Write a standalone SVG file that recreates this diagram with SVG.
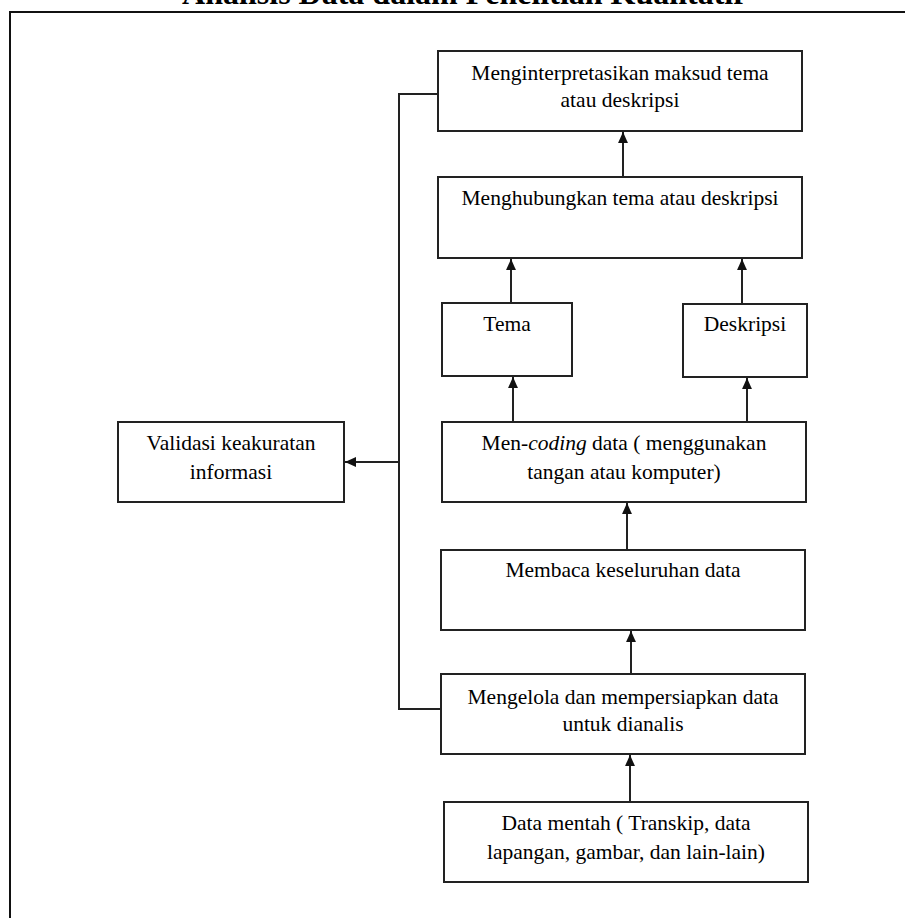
<svg xmlns="http://www.w3.org/2000/svg" width="905" height="918" viewBox="0 0 905 918">
<style>
  .box { fill: #ffffff; stroke: #222; stroke-width: 2; }
  .t { font-family: "Liberation Serif", "Times New Roman", serif; font-size: 21.5px; fill: #000; text-anchor: middle; }
  .title { font-family: "Liberation Serif", "Times New Roman", serif; font-size: 32px; font-weight: bold; fill: #000; text-anchor: middle; }
  .c { fill: none; stroke: #222; stroke-width: 2; }
  .frame { fill: none; stroke: #111; stroke-width: 2; }
</style>
<defs>
  <marker id="ah" viewBox="0 0 10 10" refX="10" refY="5" markerWidth="5.5" markerHeight="5.5" orient="auto" markerUnits="strokeWidth">
    <path d="M0,0.5 L10,5 L0,9.5 Z" fill="#111"/>
  </marker>
</defs>
<rect width="905" height="918" fill="#ffffff"/>
<text class="title" x="463" y="4">Analisis Data dalam Penelitian Kualitatif</text>
<path class="frame" d="M905,12 L10,12 L10,918"/>

<g id="connectors">
  <line class="c" x1="623" y1="177" x2="623" y2="132" marker-end="url(#ah)"/>
  <line class="c" x1="511" y1="303" x2="511" y2="259" marker-end="url(#ah)"/>
  <line class="c" x1="742" y1="304" x2="742" y2="259" marker-end="url(#ah)"/>
  <line class="c" x1="513" y1="422" x2="513" y2="377" marker-end="url(#ah)"/>
  <line class="c" x1="747" y1="422" x2="747" y2="378" marker-end="url(#ah)"/>
  <line class="c" x1="627" y1="550" x2="627" y2="503" marker-end="url(#ah)"/>
  <line class="c" x1="631" y1="674" x2="631" y2="631" marker-end="url(#ah)"/>
  <line class="c" x1="630" y1="802" x2="630" y2="755" marker-end="url(#ah)"/>
  <polyline class="c" points="438,94 399,94 399,709 441,709"/>
  <line class="c" x1="399" y1="462" x2="345" y2="462" marker-end="url(#ah)"/>
</g>

<g id="n_interpretasi">
  <rect class="box" x="438" y="51" width="364" height="80"/>
  <text class="t" x="620" y="80">Menginterpretasikan maksud tema</text>
  <text class="t" x="620" y="107">atau deskripsi</text>
</g>
<g id="n_hubungkan">
  <rect class="box" x="438" y="177" width="364" height="81"/>
  <text class="t" x="620" y="205">Menghubungkan tema atau deskripsi</text>
</g>
<g id="n_tema">
  <rect class="box" x="442" y="303" width="130" height="73"/>
  <text class="t" x="507" y="331">Tema</text>
</g>
<g id="n_deskripsi">
  <rect class="box" x="683" y="304" width="124" height="73"/>
  <text class="t" x="745" y="331">Deskripsi</text>
</g>
<g id="n_validasi">
  <rect class="box" x="118" y="422" width="226" height="80"/>
  <text class="t" x="231" y="450">Validasi keakuratan</text>
  <text class="t" x="231" y="479">informasi</text>
</g>
<g id="n_coding">
  <rect class="box" x="442" y="422" width="364" height="80"/>
  <text class="t" x="624" y="450">Men-<tspan font-style="italic">coding</tspan> data ( menggunakan</text>
  <text class="t" x="624" y="479">tangan atau komputer)</text>
</g>
<g id="n_membaca">
  <rect class="box" x="441" y="550" width="364" height="80"/>
  <text class="t" x="623" y="577">Membaca keseluruhan  data</text>
</g>
<g id="n_mengelola">
  <rect class="box" x="441" y="674" width="364" height="80"/>
  <text class="t" x="623" y="704">Mengelola dan mempersiapkan  data</text>
  <text class="t" x="623" y="731">untuk dianalis</text>
</g>
<g id="n_mentah">
  <rect class="box" x="444" y="802" width="364" height="80"/>
  <text class="t" x="626" y="830">Data mentah ( Transkip, data</text>
  <text class="t" x="626" y="859">lapangan, gambar, dan lain-lain)</text>
</g>
</svg>
